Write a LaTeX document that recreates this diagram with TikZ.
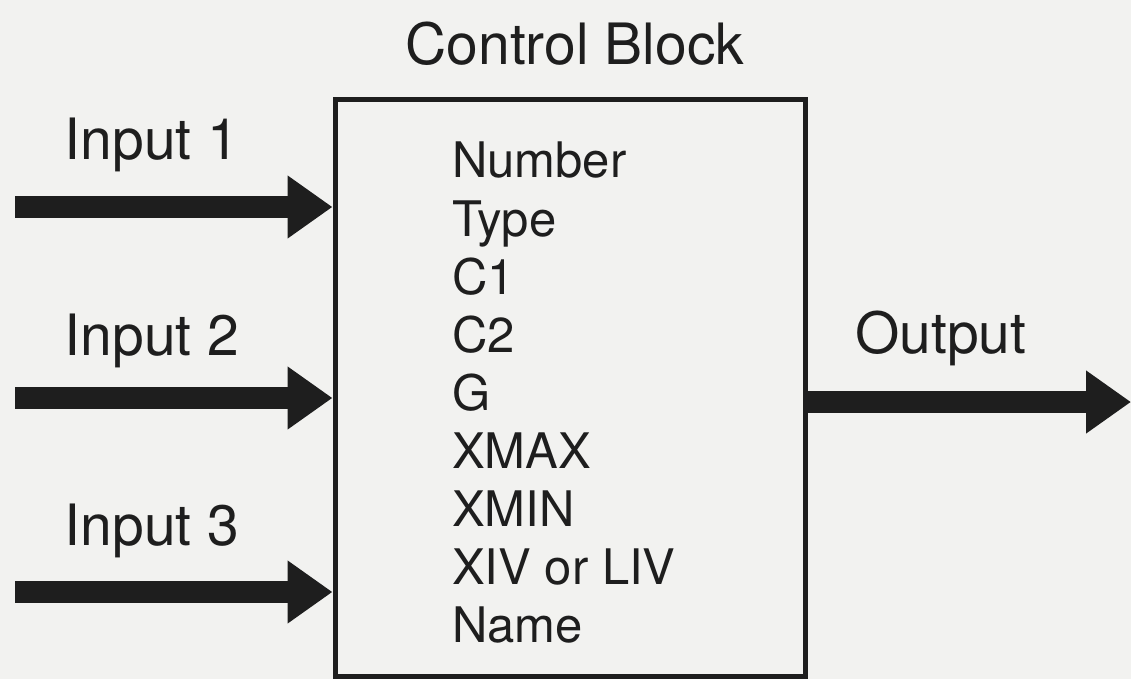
\documentclass[tikz,border=0pt]{standalone}
\usepackage{fontspec}
\setmainfont{TeX Gyre Heros}
\usetikzlibrary{arrows.meta}
\definecolor{paper}{RGB}{242,242,240}
\definecolor{ink}{RGB}{30,30,30}

\begin{document}
\begin{tikzpicture}[x=1pt,y=-1pt,
    label/.style={font=\fontsize{57}{60}\selectfont, text=ink, inner sep=0pt, anchor=base},
    field/.style={font=\fontsize{49}{52}\selectfont, text=ink, inner sep=0pt, anchor=base west},
    fat/.style={ink, line width=22pt, -{Triangle[length=45pt,width=60pt]}}]

\useasboundingbox (0,0) rectangle (1131,679);
\fill[paper] (0,0) rectangle (1131,679);

% ---- the block and its fields
\node[draw=ink, line width=5pt, minimum width=470pt, minimum height=576pt,
      inner sep=0pt] (blk) at (570,388) {};
\node[label] (title) at (575,65) {Control Block};
\foreach \t [count=\i from 0] in {Number,Type,C1,C2,G,XMAX,XMIN,XIV or LIV,Name}
  \node[field] (f\i) at (452,{178+58*\i}) {\t};

% ---- inputs
\foreach \n/\ly/\ay in {1/160/207, 2/355/398, 3/545/592}{
  \node[label] (in\n) at (152,\ly) {Input \n};
  \coordinate (src\n) at (15,\ay);
  \draw[fat] (src\n) -- (src\n -| blk.west);
}

% ---- output
\node[label, anchor=base west] (out) at (855,353) {Output};
\coordinate (snk) at (1131,402);
\draw[fat] (snk -| blk.east) -- (snk);
\end{tikzpicture}
\end{document}
